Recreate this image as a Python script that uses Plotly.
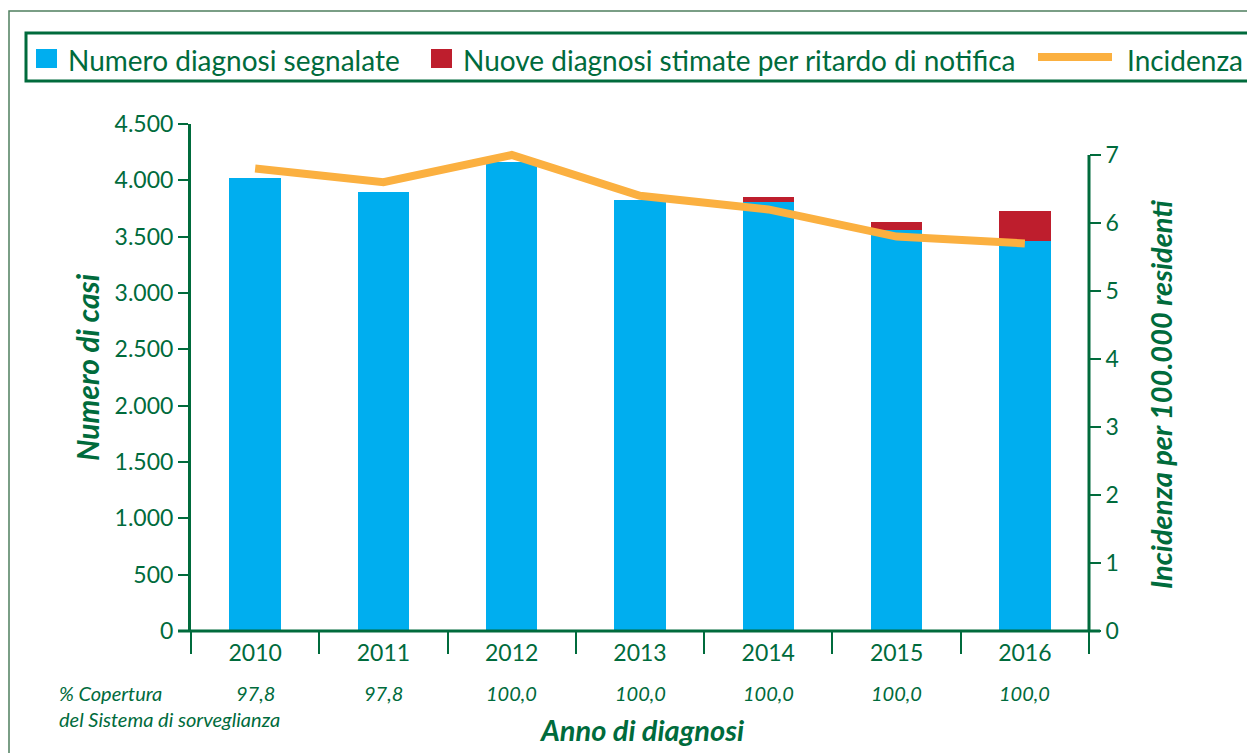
import plotly.graph_objects as go

years = ["2010", "2011", "2012", "2013", "2014", "2015", "2016"]
segnalate = [4020, 3900, 4160, 3825, 3810, 3560, 3460]
ritardo = [0, 0, 0, 0, 45, 70, 267]
incidenza = [6.8, 6.6, 7.0, 6.4, 6.2, 5.8, 5.7]
copertura = ["97,8", "97,8", "100,0", "100,0", "100,0", "100,0", "100,0"]

GREEN = "#006b3c"
BLUE = "#00aeef"
RED = "#be1e2d"
ORANGE = "#fbb040"
FONT = "Lato"

OFF = 8  # page body margin
W, H = 1255 - OFF, 753 - OFF
L, T = 191 - OFF, 124 - OFF
R = W - (1089 - OFF)
B = H - (631 - OFF)
PW, PH = W - L - R, H - T - B


def px(x):
    return (x - OFF - L) / PW


def py(y):
    return (H - B - (y - OFF)) / PH


fig = go.Figure()
fig.add_trace(go.Bar(x=years, y=segnalate, name="Numero diagnosi segnalate",
                     marker=dict(color=BLUE, line=dict(width=0)), width=0.4))
fig.add_trace(go.Bar(x=years, y=ritardo, name="Nuove diagnosi stimate per ritardo di notifica",
                     marker=dict(color=RED, line=dict(width=0)), width=0.4))
fig.add_trace(go.Scatter(x=years, y=incidenza, name="Incidenza", yaxis="y2", mode="lines",
                         line=dict(color=ORANGE, width=8)))

annotations = []
for i, c in enumerate(copertura):
    annotations.append(dict(x=i, xref="x", y=py(693), yref="paper", text=f"<i>{c}</i>",
                            showarrow=False, font=dict(size=20, color=GREEN, family=FONT),
                            xanchor="center", yanchor="middle"))
annotations.append(dict(x=px(57), xref="paper", y=py(706), yref="paper",
                        text="<i>% Copertura<br>del Sistema di sorveglianza</i>", align="left",
                        showarrow=False, font=dict(size=20, color=GREEN, family=FONT),
                        xanchor="left", yanchor="middle"))
annotations.append(dict(x=px(641), xref="paper", y=py(730), yref="paper",
                        text="<b><i>Anno di diagnosi</i></b>", showarrow=False,
                        font=dict(size=29, color=GREEN, family=FONT),
                        xanchor="center", yanchor="middle"))
annotations.append(dict(x=px(87), xref="paper", y=py(367), yref="paper",
                        text="<b><i>Numero di casi</i></b>", showarrow=False, textangle=-90,
                        font=dict(size=30, color=GREEN, family=FONT),
                        xanchor="center", yanchor="middle"))
annotations.append(dict(x=px(1160), xref="paper", y=py(395), yref="paper",
                        text="<b><i>Incidenza per 100.000 residenti</i></b>", showarrow=False,
                        textangle=-90, font=dict(size=29, color=GREEN, family=FONT),
                        xanchor="center", yanchor="middle"))

# legend (drawn by hand to match the reference's single wide row)
legend_names = [fig.data[0].name, fig.data[1].name, fig.data[2].name]
legend_text_x = [68, 463, 1127]
for name, lx in zip(legend_names, legend_text_x):
    annotations.append(dict(x=px(lx - 2), xref="paper", y=py(60), yref="paper", text=name,
                            showarrow=False, font=dict(size=28, color=GREEN, family=FONT),
                            xanchor="left", yanchor="middle"))

shapes = [
    dict(type="rect", xref="paper", yref="paper", x0=px(9), x1=px(1262), y0=py(11), y1=py(760),
         line=dict(color="#4f7f5f", width=1.5), layer="below"),
    dict(type="rect", xref="paper", yref="paper", x0=px(26), x1=px(1249), y0=py(33), y1=py(81),
         line=dict(color=GREEN, width=3)),
    dict(type="rect", xref="paper", yref="paper", x0=px(36), x1=px(57), y0=py(49), y1=py(68),
         fillcolor=BLUE, line=dict(width=0)),
    dict(type="rect", xref="paper", yref="paper", x0=px(431), x1=px(452), y0=py(49), y1=py(68),
         fillcolor=RED, line=dict(width=0)),
    dict(type="line", xref="paper", yref="paper", x0=px(1038), x1=px(1112), y0=py(57), y1=py(57),
         line=dict(color=ORANGE, width=8)),
    dict(type="line", xref="paper", yref="y2", x0=1, x1=1, y0=0, y1=7,
         line=dict(color=GREEN, width=3)),
    dict(type="line", xref="paper", yref="paper", x0=px(178), x1=px(1100), y0=0, y1=0,
         line=dict(color=GREEN, width=3)),
]

fig.update_layout(
    width=W, height=H,
    margin=dict(l=L, r=R, t=T, b=B, autoexpand=False),
    barmode="stack",
    separators=",.",
    paper_bgcolor="white", plot_bgcolor="white",
    font=dict(family=FONT, color=GREEN),
    showlegend=False,
    xaxis=dict(type="category", range=[-0.5, 6.5], showline=False, showgrid=False,
               ticks="outside", tickson="boundaries", ticklen=22, tickwidth=2, tickcolor=GREEN,
               ticklabelstandoff=6, tickfont=dict(size=23, color=GREEN)),
    yaxis=dict(range=[0, 4500], dtick=500, tickformat=",d", showgrid=False, zeroline=False,
               showline=True, linecolor=GREEN, linewidth=3, ticks="outside", ticklen=10,
               tickwidth=2, tickcolor=GREEN, tickfont=dict(size=23, color=GREEN)),
    yaxis2=dict(range=[0, (631 - 124) / 68.0], overlaying="y", side="right", tickvals=list(range(8)),
                showgrid=False, zeroline=False, showline=False, ticks="outside", ticklen=11,
                tickwidth=2, tickcolor=GREEN, tickfont=dict(size=23, color=GREEN)),
    annotations=annotations,
    shapes=shapes,
)

fig.write_html("out.html")
